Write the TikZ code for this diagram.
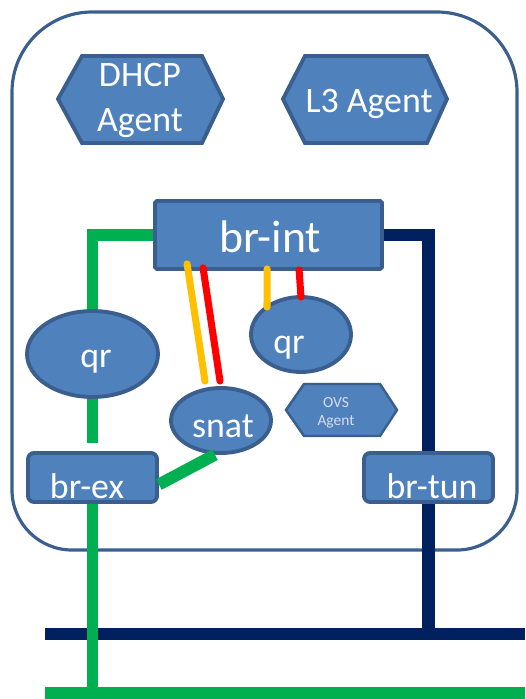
\documentclass[tikz,border=0pt]{standalone}
\usepackage{fontspec}
\setmainfont{Carlito}
\usetikzlibrary{calc,shapes.geometric}
\definecolor{boxfill}{HTML}{4F81BD}
\definecolor{boxline}{HTML}{3A5F8F}
\definecolor{extgreen}{HTML}{00B050}
\definecolor{tunnavy}{HTML}{002060}
\definecolor{portyellow}{HTML}{FFC000}
\definecolor{portred}{HTML}{FF0000}
\definecolor{ovstext}{HTML}{D5DDEA}
\pgfdeclarelayer{bg}
\pgfsetlayers{bg,main}
\begin{document}
\begin{tikzpicture}[x=0.02cm,y=-0.02cm,
  shapebox/.style={draw=boxline, fill=boxfill, line width=2.2pt},
  bridge/.style={shapebox, rectangle, inner sep=0pt},
  router/.style={shapebox, ellipse, inner sep=0pt},
  agent/.style={shapebox, line join=miter},
  lbl/.style={text=white, anchor=base, inner sep=0pt, font=\fontsize{20.4}{24}\selectfont},
  biglbl/.style={lbl, font=\fontsize{26}{30}\selectfont},
  smalllbl/.style={anchor=base, inner sep=0pt, text=ovstext, font=\fontsize{8.8}{10}\selectfont},
  extwire/.style={draw=extgreen, line width=6.8pt},
  tunwire/.style={draw=tunnavy, line width=7.3pt},
  port/.style={line width=4pt, line cap=round},
]
\useasboundingbox (0,0) rectangle (525,699);

% agents
\draw[agent] (58,99) -- (82,56) -- (202,56) -- (223,99) -- (202,143) -- (82,143) -- cycle;
\node[lbl] (dhcpA) at (140,87) {DHCP};
\node[lbl] (dhcpB) at (140,132) {Agent};
\draw[agent] (283,99) -- (305,56) -- (427,56) -- (447,99) -- (427,143) -- (305,143) -- cycle;
\node[lbl] (lthree) at (369,113) {L3 Agent};
\draw[agent, line width=1.4pt] (286,410) -- (304,384) -- (380,384) -- (397,410) -- (380,436) -- (304,436) -- cycle;
\node[smalllbl] (ovsA) at (336,407) {OVS};
\node[smalllbl] (ovsB) at (336,425) {Agent};

% bridges and routers
\node[bridge, minimum width=4.54cm, minimum height=1.36cm, rounded corners=1pt] (brint) at (268.5,235) {};
\node[bridge, minimum width=2.58cm, minimum height=0.98cm, rounded corners=0.12cm] (brex) at (92.5,477.5) {};
\node[bridge, minimum width=2.58cm, minimum height=0.98cm, rounded corners=0.12cm] (brtun) at (428.5,477.5) {};
\node[router, minimum width=2.62cm, minimum height=1.72cm] (qrL) at (92.5,354) {};
\node[router, minimum width=2cm, minimum height=1.5cm] (qrR) at (301,334.5) {};
\node[router, minimum width=2cm, minimum height=1.3cm] (snat) at (221,420.5) {};

\node[biglbl] (brintlbl) at (270,252) {br-int};
\node[lbl] (brexlbl) at (87,498) {br-ex};
\node[lbl] (brtunlbl) at (432,498) {br-tun};
\node[lbl] (qrLlbl) at (96,367) {qr};
\node[lbl] (qrRlbl) at (289,353) {qr};
\node[lbl] (snatlbl) at (223,437) {snat};

% external networks
\coordinate (tunW) at (45,634);
\coordinate (tunE) at (525,634);
\coordinate (extW) at (45,693);
\coordinate (extE) at (525,693);
\coordinate (qrLstub) at (92.5,443);

\begin{pgfonlayer}{bg}
  \draw[draw=boxline, line width=1.8pt] (12,300) [rounded corners=1.6cm] -- (12,12) -- (517,12) -- (517,300)
    [rounded corners=1.2cm] -- (517,550) -- (12,550) -- cycle;
  \draw[tunwire] (tunW) -- (tunE);
  \draw[extwire] (extW) -- (extE);
  \draw[extwire] (brint.west) -| (qrL.north);
  \draw[extwire] (qrL.south) -- (qrLstub);
  \draw[extwire] (brex.south) -- (brex.south |- extW);
  \draw[tunwire] (brint.east) -| (brtun.north);
  \draw[tunwire] (brtun.south) -- (brtun.south |- tunW);
\end{pgfonlayer}

% links drawn over the shapes
\draw[extwire] ([yshift=-0.14cm]brex.east) -- (snat.260);
\draw[port, portyellow] ($(brint.south west)+(34,-7)$) -- ($(snat.north)+(-16,-5)$);
\draw[port, portred] ($(brint.south west)+(50,-3)$) -- ($(snat.north)+(-1,-5)$);
\draw[port, portyellow] ($(brint.south west)+(114,-2)$) -- ($(qrR.north)+(-34,12)$);
\draw[port, portred] ($(brint.south west)+(146,-1)$) -- ($(qrR.north)+(0,2)$);
\end{tikzpicture}
\end{document}
